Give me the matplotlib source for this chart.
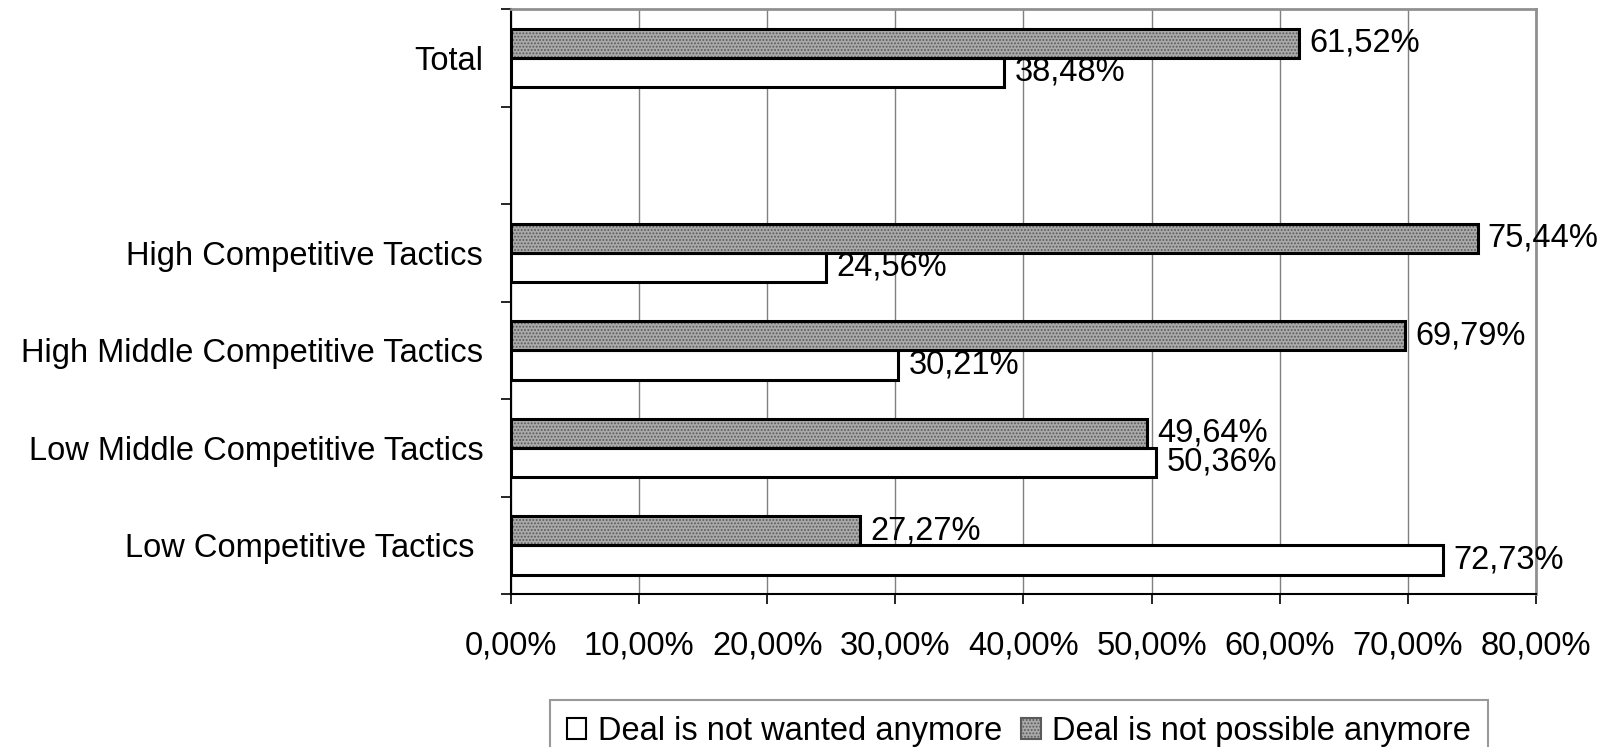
import matplotlib
matplotlib.use('Agg')
import matplotlib.pyplot as plt
import numpy as np
from matplotlib.patches import Patch

plt.rcParams['font.family'] = ['Liberation Sans', 'DejaVu Sans']
plt.rcParams['hatch.linewidth'] = 0.9

# data (bottom to top, '' is the empty spacer slot)
categories = ['Low Competitive Tactics ', 'Low Middle Competitive Tactics',
              'High Middle Competitive Tactics', 'High Competitive Tactics', '', 'Total']
not_wanted = [72.73, 50.36, 30.21, 24.56, None, 38.48]
not_possible = [27.27, 49.64, 69.79, 75.44, None, 61.52]
x_ticks = [0, 10, 20, 30, 40, 50, 60, 70, 80]
x_tick_labels = ['0,00%', '10,00%', '20,00%', '30,00%', '40,00%',
                 '50,00%', '60,00%', '70,00%', '80,00%']
legend_labels = ['Deal is not wanted anymore', 'Deal is not possible anymore']

fs = 23.5
fig = plt.figure(figsize=(16.06, 7.47), dpi=100)
ax = fig.add_axes([511 / 1606, 1 - 594 / 747, 1025 / 1606, 585 / 747])

h = 0.3
gray_face = '#aaaaaa'
hatch_col = '#5a5a5a'
for i, (w, p) in enumerate(zip(not_wanted, not_possible)):
    if w is None:
        continue
    # white bar (below centre)
    ax.barh(i - h / 2, w, height=h, color='white', edgecolor='black',
            linewidth=2.2, zorder=3)
    # grey dotted bar (above centre)
    ax.barh(i + h / 2, p, height=h, color=gray_face, edgecolor=hatch_col,
            hatch='.....', linewidth=0, zorder=3)
    ax.barh(i + h / 2, p, height=h, color='none', edgecolor='black',
            linewidth=2.2, zorder=4)
    ax.text(w + 0.8, i - h / 2, f'{w:.2f}%'.replace('.', ','), va='center',
            ha='left', fontsize=fs, zorder=5)
    ax.text(p + 0.8, i + h / 2, f'{p:.2f}%'.replace('.', ','), va='center',
            ha='left', fontsize=fs, zorder=5)

ax.set_xlim(0, 80)
ax.set_ylim(-0.5, len(categories) - 0.5)
ax.set_xticks(x_ticks)
ax.set_xticklabels(x_tick_labels, fontsize=fs)
ax.set_yticks(range(len(categories)))
ax.set_yticklabels(categories, fontsize=fs)
ax.set_yticks(np.arange(-0.5, len(categories), 1.0), minor=True)
ax.tick_params(axis='y', which='major', length=0, pad=20)
ax.tick_params(axis='y', which='minor', length=10 * 0.72, width=1.2, direction='out')
ax.tick_params(axis='x', which='major', length=10 * 0.72, width=1.2, direction='out', pad=19)

ax.grid(True, axis='x', color='#808080', linewidth=1.0, zorder=0)
ax.set_axisbelow(True)
for side in ['top', 'right']:
    ax.spines[side].set_color('#909090')
    ax.spines[side].set_linewidth(2.0)
for side in ['left', 'bottom']:
    ax.spines[side].set_color('black')
    ax.spines[side].set_linewidth(1.5)

handles = [Patch(facecolor='white', edgecolor='black', linewidth=1.5),
           Patch(facecolor=gray_face, edgecolor=hatch_col, hatch='.....', linewidth=1.5)]
leg = fig.legend(handles, legend_labels, loc='upper center', ncol=2,
                 bbox_to_anchor=(1019 / 1606, 1 - 700 / 747), fontsize=fs,
                 frameon=True, fancybox=False, edgecolor='#808080',
                 handlelength=0.6, handleheight=0.6, handletextpad=0.35,
                 columnspacing=0.6, borderpad=0.5, borderaxespad=0)
leg.get_frame().set_linewidth(1.5)

fig.savefig('out.png', dpi=100)
